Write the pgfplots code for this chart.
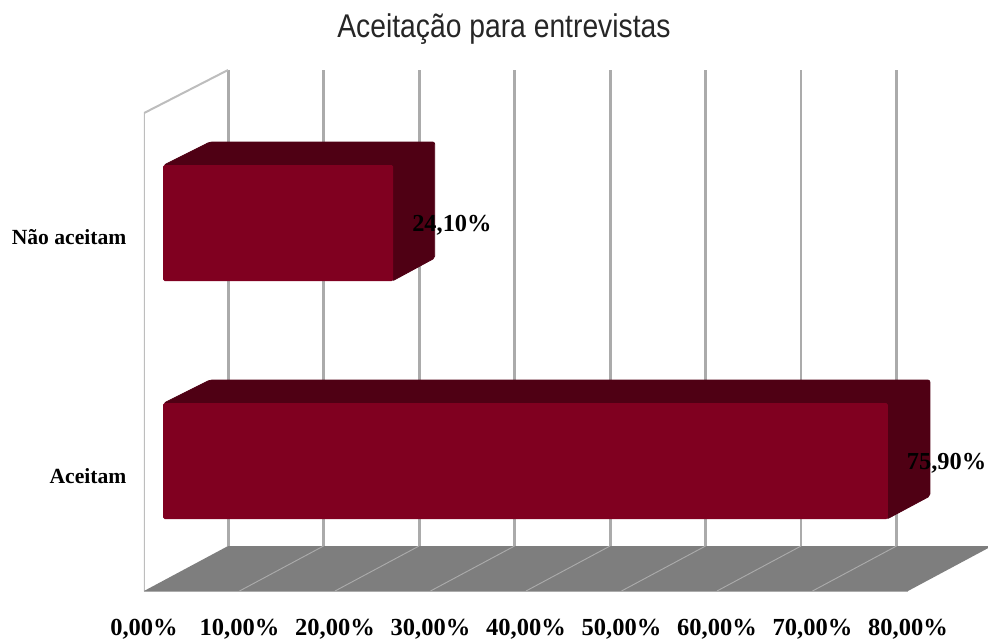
\documentclass[border=0pt]{standalone}
\usepackage{fontspec}
\setmainfont{Liberation Serif}
\newfontfamily\titlefont{Liberation Sans}
\usepackage{pgfplots}
\pgfplotsset{compat=1.18}
\definecolor{barfront}{HTML}{800020}
\definecolor{barside}{HTML}{4F0014}
\definecolor{floorc}{HTML}{7E7E7E}
\definecolor{gridc}{HTML}{ABABAB}
\definecolor{wallc}{HTML}{BDBDBD}
\begin{document}
\begin{tikzpicture}
\path[use as bounding box] (0,0) rectangle (741pt,480pt);
\begin{axis}[
  at={(108pt,36.75pt)}, anchor=south west,
  scale only axis, width=633pt, height=390.75pt,
  xmin=-1.99, xmax=86.39, ymin=-0.546, ymax=1.643,
  clip mode=individual,
  axis line style={draw=none},
  major tick length=0pt,
  xtick={-1.99,8.01,18.01,28.01,38.01,48.01,58.01,68.01,78.01},
  xticklabels={{0,00\%},{10,00\%},{20,00\%},{30,00\%},{40,00\%},{50,00\%},{60,00\%},{70,00\%},{80,00\%}},
  ytick={-0.063,0.941},
  yticklabels={Aceitam,Não aceitam},
  x tick label style={yshift=-17.6pt, font=\fontsize{18.4pt}{20pt}\selectfont\bfseries, text=black},
  y tick label style={xshift=-9.7pt, font=\fontsize{16.2pt}{18pt}\selectfont\bfseries, text=black},
  title={\scalebox{0.93}[1.08]{Aceitação para entrevistas}},
  title style={at={(0.4265,1.0635)}, anchor=center, font=\titlefont\fontsize{22.8pt}{26pt}\selectfont, text=black!85},
  point meta=explicit symbolic,
]
% back grid lines
\addplot[gridc, line width=2.2pt] coordinates {(6.81,-0.357)(6.81,1.643)};
\addplot[gridc, line width=2.2pt] coordinates {(16.81,-0.357)(16.81,1.643)};
\addplot[gridc, line width=2.2pt] coordinates {(26.81,-0.357)(26.81,1.643)};
\addplot[gridc, line width=2.2pt] coordinates {(36.81,-0.357)(36.81,1.643)};
\addplot[gridc, line width=2.2pt] coordinates {(46.81,-0.357)(46.81,1.643)};
\addplot[gridc, line width=2.2pt] coordinates {(56.81,-0.357)(56.81,1.643)};
\addplot[gridc, line width=2.2pt] coordinates {(66.81,-0.357)(66.81,1.643)};
\addplot[gridc, line width=2.2pt] coordinates {(76.81,-0.357)(76.81,1.643)};
% left wall
\addplot[wallc, line width=1.5pt] coordinates {(-1.99,-0.546)(-1.99,1.462)(6.81,1.643)};
% floor
\addplot[fill=floorc, draw=none] coordinates {(-1.99,-0.546)(6.81,-0.357)(86.81,-0.357)(78.01,-0.546)} -- cycle;
\addplot[gridc, line width=0.7pt] coordinates {(8.01,-0.546)(16.81,-0.357)};
\addplot[gridc, line width=0.7pt] coordinates {(18.01,-0.546)(26.81,-0.357)};
\addplot[gridc, line width=0.7pt] coordinates {(28.01,-0.546)(36.81,-0.357)};
\addplot[gridc, line width=0.7pt] coordinates {(38.01,-0.546)(46.81,-0.357)};
\addplot[gridc, line width=0.7pt] coordinates {(48.01,-0.546)(56.81,-0.357)};
\addplot[gridc, line width=0.7pt] coordinates {(58.01,-0.546)(66.81,-0.357)};
\addplot[gridc, line width=0.7pt] coordinates {(68.01,-0.546)(76.81,-0.357)};
\addplot[gridc, line width=0.7pt] coordinates {(-1.99,-0.546)(78.01,-0.546)};
% bar depth
\addplot[fill=barside, draw=barside, line width=0.6pt, rounded corners=1.5pt] coordinates {(0.1,1.2437)(4.9,1.3403)(28.45,1.3403)(28.45,0.8529)(24.0,0.7563)(24.0,1.2437)} -- cycle;
\addplot[fill=barside, draw=barside, line width=0.6pt, rounded corners=1.5pt] coordinates {(0.1,0.2437)(4.9,0.3403)(80.3,0.3403)(80.3,-0.1471)(75.8,-0.2437)(75.8,0.2437)} -- cycle;
% bars
\addplot[xbar, bar width=87pt, bar shift=0pt, fill=barfront, draw=none, rounded corners=1.2pt,
  nodes near coords,
  every node near coord/.append style={font=\fontsize{18.3pt}{20pt}\selectfont\bfseries, text=black, anchor=west, xshift=10.8pt, yshift=-1.7pt}]
  coordinates {(75.9,0)[75,90\%] (24.1,1)[24,10\%]};
\end{axis}
\end{tikzpicture}
\end{document}
